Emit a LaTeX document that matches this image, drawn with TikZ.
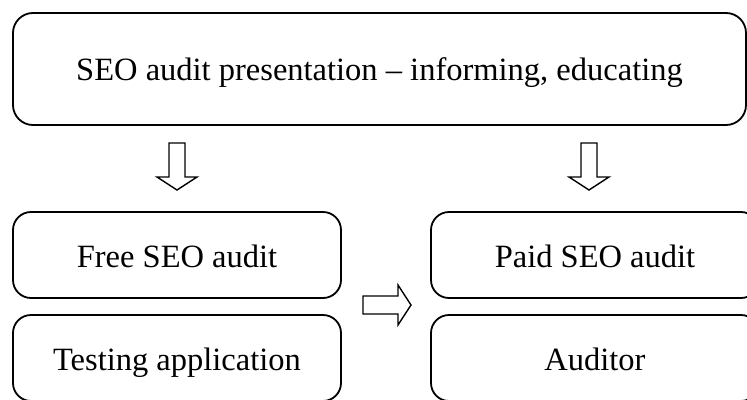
\documentclass[tikz,border=0pt]{standalone}
\usepackage{fontspec}
\setmainfont{Liberation Serif}
\begin{document}
\begin{tikzpicture}[x=1pt,y=-1pt,
  box/.style={draw,line width=1.8pt,rounded corners=18pt,inner sep=0pt,
    text height=24pt,text depth=0pt,
    font=\fontsize{32.5}{38}\selectfont},
  blockarrow/.style={draw,line width=1.4pt,fill=white,line join=miter}]
\useasboundingbox (0,0) rectangle (747,399);
\clip (0,0) rectangle (747,399);
\node[box,rounded corners=20pt,minimum width=733pt,minimum height=112pt,text height=23pt] (top) at (379.5,69) {SEO audit presentation -- informing, educating};
\node[box,minimum width=328pt,minimum height=86pt] (free) at (177,255) {Free SEO audit};
\node[box,minimum width=328pt,minimum height=86pt] (test) at (177,358) {Testing application};
\node[box,minimum width=328pt,minimum height=86pt] (paid) at (595,255) {Paid SEO audit};
\node[box,minimum width=328pt,minimum height=86pt] (aud) at (595,358) {Auditor};
% down arrows
\foreach \cx in {177,589}{
  \draw[blockarrow] (\cx-8,143) -- (\cx+8,143) -- (\cx+8,177) -- (\cx+20,177) -- (\cx,190) -- (\cx-20,177) -- (\cx-8,177) -- cycle;
}
% right arrow
\draw[blockarrow] (363,296) -- (398,296) -- (398,285) -- (411,305) -- (398,325) -- (398,314) -- (363,314) -- cycle;
\end{tikzpicture}
\end{document}
